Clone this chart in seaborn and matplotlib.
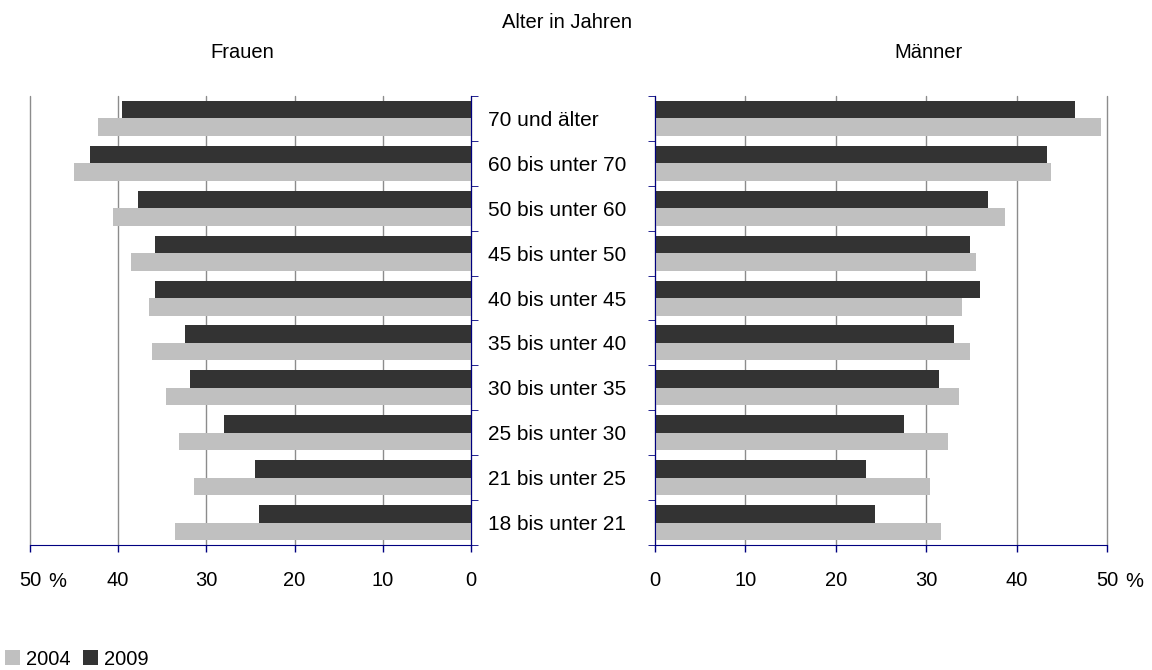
import numpy as np
import pandas as pd
import seaborn as sns
import matplotlib.pyplot as plt
from matplotlib.patches import Patch
from matplotlib.ticker import FixedLocator

# age groups, top to bottom
age_groups = ['70 und älter', '60 bis unter 70', '50 bis unter 60', '45 bis unter 50',
              '40 bis unter 45', '35 bis unter 40', '30 bis unter 35', '25 bis unter 30',
              '21 bis unter 25', '18 bis unter 21']

frauen_2004 = [42.3, 45.0, 40.6, 38.5, 36.5, 36.2, 34.6, 33.1, 31.4, 33.5]
frauen_2009 = [39.6, 43.2, 37.7, 35.8, 35.8, 32.4, 31.8, 28.0, 24.5, 24.0]
maenner_2004 = [49.3, 43.8, 38.7, 35.5, 34.0, 34.8, 33.6, 32.4, 30.4, 31.6]
maenner_2009 = [46.5, 43.4, 36.8, 34.8, 35.9, 33.1, 31.4, 27.5, 23.3, 24.3]

years = ['2004', '2009']
colors = {'2004': '#c0c0c0', '2009': '#333333'}
navy = '#000080'


def to_long(v2004, v2009):
    df = pd.DataFrame({'Alter': age_groups, '2004': v2004, '2009': v2009})
    return df.melt(id_vars='Alter', var_name='Jahr', value_name='Anteil')


df_f = to_long(frauen_2004, frauen_2009)
df_m = to_long(maenner_2004, maenner_2009)

sns.set_style('white')
plt.rcParams['font.family'] = ['Liberation Sans', 'DejaVu Sans']
plt.rcParams['text.color'] = 'black'
plt.rcParams['xtick.color'] = 'black'
plt.rcParams['ytick.color'] = 'black'

fig = plt.figure(figsize=(11.52, 6.7), dpi=100)
ax_f = fig.add_axes([0.026, 0.1866, 0.3828, 0.6701])
ax_m = fig.add_axes([0.5686, 0.1866, 0.3924, 0.6701])

for ax, df in [(ax_f, df_f), (ax_m, df_m)]:
    sns.barplot(data=df, y='Alter', x='Anteil', hue='Jahr', order=age_groups,
                hue_order=['2009', '2004'], palette=colors, orient='h',
                width=0.78, saturation=1, linewidth=0, edgecolor='none',
                ax=ax, legend=False)
    ax.set_xlim(0, 50)
    ax.set_xticks([0, 10, 20, 30, 40, 50])
    ax.set_xticklabels(['0', '10', '20', '30', '40', '50'])
    ax.set_ylim(len(age_groups) - 0.5, -0.5)
    ax.set_xlabel('')
    ax.set_ylabel('')
    ax.grid(axis='x', color='#8c8c8c', lw=1, clip_on=False)
    ax.grid(axis='y', visible=False)
    ax.set_axisbelow(True)
    ax.tick_params(axis='x', direction='out', length=5, width=1, color=navy,
                   labelsize=14.5, labelcolor='black', pad=14, bottom=True)
    ax.yaxis.set_minor_locator(FixedLocator(np.arange(-0.5, len(age_groups), 1.0)))
    for s in ['top', 'left', 'right', 'bottom']:
        ax.spines[s].set_visible(False)
    ax.spines['bottom'].set_visible(True)
    ax.spines['bottom'].set_color(navy)

# Frauen: reversed axis, labels on the right
ax_f.invert_xaxis()
ax_f.spines['right'].set_visible(True)
ax_f.spines['right'].set_color(navy)
ax_f.yaxis.tick_right()
ax_f.tick_params(axis='y', which='major', length=0, labelsize=15, labelcolor='black',
                 pad=12, left=False, right=True)
ax_f.tick_params(axis='y', which='minor', direction='out', length=5, color=navy,
                 left=False, right=True)
for lab in ax_f.get_yticklabels():
    lab.set_horizontalalignment('left')

# Männer
ax_m.spines['left'].set_visible(True)
ax_m.spines['left'].set_color(navy)
ax_m.tick_params(axis='y', which='major', length=0, labelleft=False, left=False)
ax_m.tick_params(axis='y', which='minor', direction='out', length=5, color=navy, left=True)

for ax in [ax_f, ax_m]:
    ax.annotate('%', xy=(50, 0), xycoords=('data', 'axes fraction'),
                xytext=(27, -37), textcoords='offset pixels',
                ha='center', va='center', fontsize=14.5)

fig.text(0.492, 0.967, 'Alter in Jahren', ha='center', va='center', fontsize=14.5)
fig.text(0.210, 0.921, 'Frauen', ha='center', va='center', fontsize=14.5)
fig.text(0.806, 0.921, 'Männer', ha='center', va='center', fontsize=14.5)

handles = [Patch(facecolor=colors[y], edgecolor='none', label=y) for y in years]
fig.legend(handles=handles, loc='lower left', bbox_to_anchor=(-0.006, -0.016), ncol=2,
           frameon=False, fontsize=14.5, handlelength=0.75, handleheight=0.75,
           handletextpad=0.3, columnspacing=0.6, borderaxespad=0.2)

fig.savefig('out.png', dpi=100)
